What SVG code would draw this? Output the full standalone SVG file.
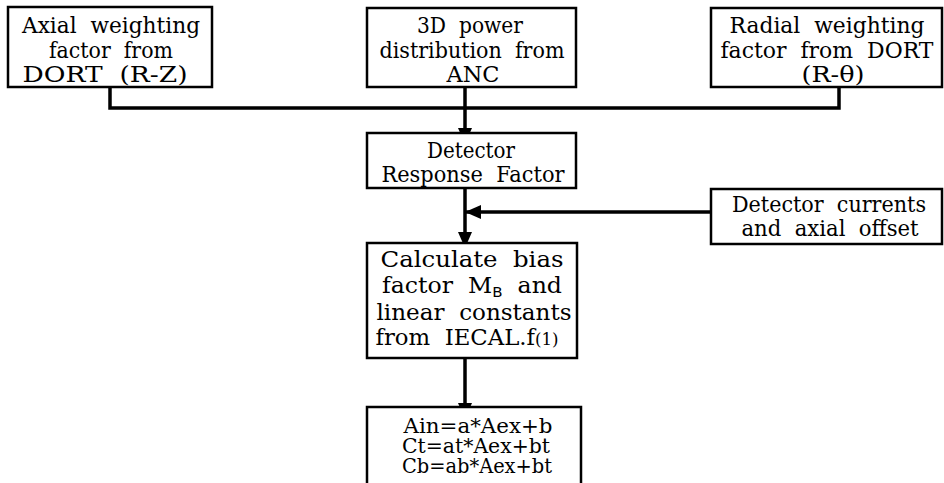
<svg xmlns="http://www.w3.org/2000/svg" width="944" height="483" viewBox="0 0 944 483">
<style>
.box{fill:#fff;stroke:#000;stroke-width:2.5}
.c{fill:none;stroke:#000;stroke-width:3.5}
</style>
<defs>
<marker id="ah" markerUnits="userSpaceOnUse" markerWidth="16" markerHeight="14" refX="15" refY="7" orient="auto">
<path d="M0,0 L16,7 L0,14 Z" fill="#000"/>
</marker>
</defs>
<rect width="944" height="483" fill="#fff"/>
<g id="connectors">
<polyline class="c" points="110,87 110,108 839,108 839,87"/>
<line class="c" x1="465" y1="87" x2="465" y2="143" marker-end="url(#ah)"/>
<line class="c" x1="465" y1="188" x2="465" y2="247" marker-end="url(#ah)"/>
<line class="c" x1="711" y1="212" x2="466" y2="212" marker-end="url(#ah)"/>
<line class="c" x1="465" y1="358" x2="465" y2="418" marker-end="url(#ah)"/>
</g>
<g font-family="DejaVu Serif, Liberation Serif, serif" font-size="22" text-anchor="middle" fill="#000" word-spacing="7">
<g id="axial">
<rect class="box" x="8" y="7" width="204" height="80"/>
<text x="111" y="33" textLength="178" lengthAdjust="spacingAndGlyphs">Axial weighting</text>
<text x="111" y="58" textLength="124" lengthAdjust="spacingAndGlyphs">factor from</text>
<text x="105" y="82" textLength="165" lengthAdjust="spacingAndGlyphs">DORT (R-Z)</text>
</g>
<g id="power3d">
<rect class="box" x="367" y="8" width="209" height="79"/>
<text x="470" y="33" textLength="106" lengthAdjust="spacingAndGlyphs">3D power</text>
<text x="472" y="58" textLength="185" lengthAdjust="spacingAndGlyphs">distribution from</text>
<text x="473" y="82" textLength="53" lengthAdjust="spacingAndGlyphs">ANC</text>
</g>
<g id="radial">
<rect class="box" x="711" y="8" width="231" height="79"/>
<text x="827" y="33" textLength="195" lengthAdjust="spacingAndGlyphs">Radial weighting</text>
<text x="827" y="58" textLength="213" lengthAdjust="spacingAndGlyphs">factor from DORT</text>
<text x="833" y="82" textLength="63" lengthAdjust="spacingAndGlyphs">(R-θ)</text>
</g>
<g id="drf">
<rect class="box" x="367" y="133" width="209" height="55"/>
<text x="471" y="158" textLength="88" lengthAdjust="spacingAndGlyphs">Detector</text>
<text x="473" y="182" textLength="183" lengthAdjust="spacingAndGlyphs">Response Factor</text>
</g>
<g id="currents">
<rect class="box" x="711" y="189" width="231" height="55"/>
<text x="829" y="212" textLength="194" lengthAdjust="spacingAndGlyphs">Detector currents</text>
<text x="830" y="236" textLength="177" lengthAdjust="spacingAndGlyphs">and axial offset</text>
</g>
<g id="calc">
<rect class="box" x="367" y="243" width="210" height="115"/>
<text x="472" y="267" textLength="183" lengthAdjust="spacingAndGlyphs">Calculate bias</text>
<text x="472" y="293" textLength="180" lengthAdjust="spacingAndGlyphs">factor M<tspan font-family="DejaVu Sans, Liberation Sans, sans-serif" font-size="14" dy="4">B</tspan><tspan dy="-4"> and</tspan></text>
<text x="474" y="320" textLength="195" lengthAdjust="spacingAndGlyphs">linear constants</text>
<text x="467" y="345" textLength="183" lengthAdjust="spacingAndGlyphs">from IECAL.f<tspan font-size="16">(1)</tspan></text>
</g>
<g id="result" font-size="20" word-spacing="0">
<rect class="box" x="367" y="407" width="214" height="90"/>
<text x="478" y="433" textLength="149" lengthAdjust="spacingAndGlyphs">Ain=a*Aex+b</text>
<text x="476" y="453" textLength="148" lengthAdjust="spacingAndGlyphs">Ct=at*Aex+bt</text>
<text x="477" y="473" textLength="150" lengthAdjust="spacingAndGlyphs">Cb=ab*Aex+bt</text>
</g>
</g>
</svg>
